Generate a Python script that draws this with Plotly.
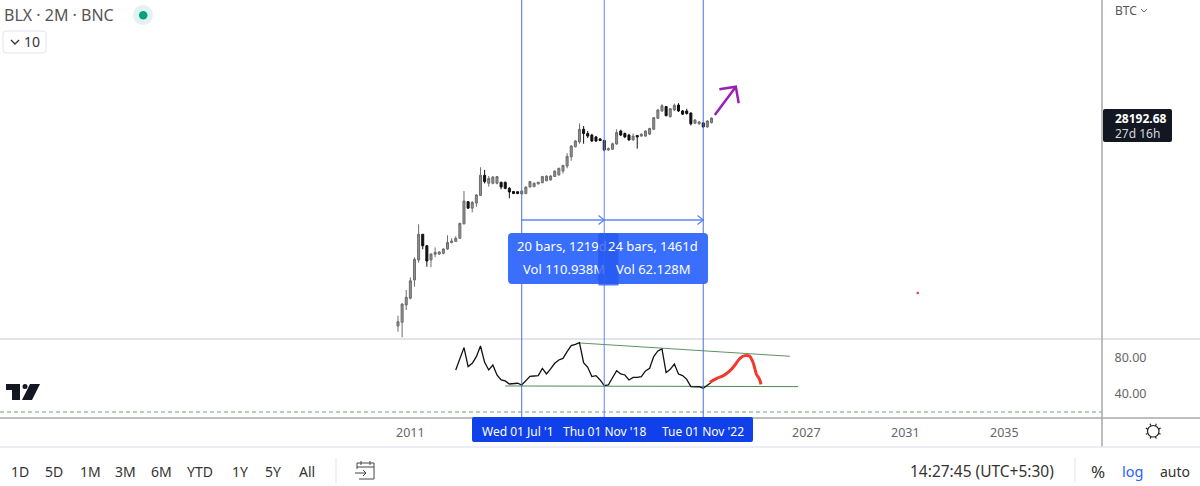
import math
import plotly.graph_objects as go

W, H = 1200, 486
FONT = "Noto Sans"

# --- candle data (2M bars, Jul 2010 -> Mar 2023) ---
bar_index = list(range(77))
opens = [0.104, 0.131, 0.369, 0.555, 1.66, 5.52, 25.9, 13.0, 5.52, 7.8, 7.92, 8.26, 10.7, 15.8, 16.9, 20.4,
         48.5, 184, 125, 170, 267, 900, 556, 556, 556, 590, 590, 410, 340, 335, 292, 300,
         445, 455, 535, 575, 645, 678, 835, 915, 1160, 1570, 2750, 5000, 6660, 14300, 11100, 10100,
         9050, 8000, 7350, 4110, 4300, 5900, 12900, 11100, 10100, 7510, 9900, 9500, 9500, 10700, 14300, 27700,
         43000, 56000, 30500, 45600, 61500, 43000, 43000, 38000, 20500, 19900, 21000, 16500, 21300]
highs = [0.194, 0.41, 0.91, 1.95, 6.5, 47.3, 26.3, 13.6, 8.26, 11.8, 9.2, 11.2, 24.4, 20.4, 23, 52,
         350, 192, 192, 292, 1460, 1240, 860, 860, 860, 615, 615, 445, 350, 345, 360, 460,
         640, 590, 610, 870, 890, 900, 1200, 1420, 1700, 3400, 5560, 7510, 20400, 17400, 12900, 10900,
         9600, 8500, 7510, 4800, 6400, 14300, 14000, 11800, 10900, 11100, 10100, 11100, 13400, 15700, 30000, 48600,
         65000, 58000, 50000, 67000, 69000, 45600, 49000, 39500, 26500, 23500, 22000, 25000, 29200]
lows = [0.074, 0.053, 0.273, 0.52, 1.11, 4.69, 10.5, 3.69, 3.57, 6.5, 7.46, 7.8, 10.1, 15, 16.3, 19.8,
        47.3, 119, 97, 136, 258, 550, 455, 525, 525, 388, 388, 226, 292, 290, 285, 290,
        435, 440, 525, 560, 630, 660, 810, 900, 1000, 1370, 2170, 4800, 6000, 6000, 8400, 6660,
        6660, 7100, 3800, 3900, 4110, 5650, 9500, 8400, 7300, 7300, 4480, 9200, 9200, 10100, 13700, 26500,
        40500, 31000, 29000, 43000, 40500, 34000, 34500, 18000, 19900, 18800, 15700, 15700, 20300]
closes = [0.135, 0.392, 0.587, 1.59, 5.76, 25.9, 13.0, 5.2, 7.92, 8.8, 9, 10.7, 15.8, 17.3, 20.4, 50,
          192, 125, 176, 275, 900, 615, 745, 810, 835, 445, 410, 330, 300, 300, 350, 445,
          615, 556, 590, 835, 860, 860, 1160, 1370, 1620, 2810, 5230, 7070, 14300, 11100, 9500, 7100,
          7100, 7250, 4110, 4480, 6000, 11800, 10100, 9050, 7510, 9500, 9050, 10700, 12900, 15000, 28800, 45600,
          59000, 32500, 49500, 60500, 43000, 35500, 37000, 19900, 25000, 22300, 16500, 23500, 28192.68]

# --- indicator pane ---
rsi_index = list(range(14, 77))
rsi_values = [66.7, 78.9, 91.5, 70.4, 74.1, 81.5, 93.3, 75.2, 66.7, 72.2, 61.1, 55.6, 54.5, 51.1, 51.1, 51.9,
              50, 54.5, 59.6, 60, 60.4, 68.5, 62.2, 67.8, 74.1, 77.8, 79.6, 87, 93.7, 95.2, 97,
              74.8, 69.6, 59.3, 60.4, 55.6, 49.3, 50, 57.4, 65.9, 62.2, 61.1, 55.6, 58.5, 58.5, 59.3,
              65.6, 68.5, 81.5, 87.8, 90, 63.7, 67.4, 73.3, 62.2, 60.4, 56.3, 48.2, 47.8, 48.2, 46.3, 50, 53]
scribble_x = [75.6, 77.3, 78.9, 80.5, 81.7, 82.9, 84.1, 85.2, 86, 86.5, 86.9, 87.6, 88]
scribble_y = [53, 57.4, 60.4, 65.9, 72.2, 79.6, 82.6, 82.2, 75.9, 68.5, 61.9, 56.7, 50.7]
trend_top_x, trend_top_y = [44, 95], [96.7, 81.9]
trend_low_x, trend_low_y = [26, 97], [48.9, 48.2]

# --- hand drawings on the price pane ---
marker_bars = [30, 50, 74]
marker_dates = ["Wed 01 Jul '1", "Thu 01 Nov '18", "Tue 01 Nov '22"]
marker_date_px = [517.5, 604.5, 703]
measure_x = [30, 50, None, 48.6, 50, 48.6, None, 50, 74, None, 72.6, 74, 72.6]
measure_y = [61.2, 61.2, None, 80, 61.2, 47, None, 61.2, 61.2, None, 80, 61.2, 47]
arrow_x = [76.8, 81.9, None, 77.9, 81.9, 82.6]
arrow_y = [33700, 185000, None, 158000, 185000, 68200]
red_dot_x, red_dot_y = [126], [0.76]

tick_bars = [3, 99, 123, 147]
tick_labels = ["2011", "2027", "2031", "2035"]
rsi_ticks = [40, 80]
rsi_tick_labels = ["40.00", "80.00"]
timeframes = ["1D", "5D", "1M", "3M", "6M", "YTD", "1Y", "5Y", "All"]
timeframe_px = [20, 54, 90, 125, 161, 200, 240, 273, 307]

last_price = 28192.68
PX_PER_DECADE = 38.3
PRICE_Y_PX = 118
PANE_BOTTOM = 339
PLOT_RIGHT = 1102
AXIS_Y = 418


def X(px):
    return px / W


def Y(py):
    return 1 - py / H


def rounded(x0, y0, x1, y1, r):
    return (f"M {X(x0 + r)} {Y(y0)} L {X(x1 - r)} {Y(y0)} Q {X(x1)} {Y(y0)} {X(x1)} {Y(y0 + r)} "
            f"L {X(x1)} {Y(y1 - r)} Q {X(x1)} {Y(y1)} {X(x1 - r)} {Y(y1)} "
            f"L {X(x0 + r)} {Y(y1)} Q {X(x0)} {Y(y1)} {X(x0)} {Y(y1 - r)} "
            f"L {X(x0)} {Y(y0 + r)} Q {X(x0)} {Y(y0)} {X(x0 + r)} {Y(y0)} Z")


def poly(points, close=True):
    d = " ".join(("M" if i == 0 else "L") + f" {X(p[0])} {Y(p[1])}" for i, p in enumerate(points))
    return d + (" Z" if close else "")


fig = go.Figure()

fig.add_trace(go.Candlestick(
    x=bar_index, open=opens, high=highs, low=lows, close=closes,
    increasing_line_color="#6e6e6e", increasing_fillcolor="#8f8f8f",
    decreasing_line_color="#111111", decreasing_fillcolor="#111111",
    line_width=1, whiskerwidth=0, showlegend=False,
))
fig.add_trace(go.Scatter(x=measure_x, y=measure_y, mode="lines",
                         line=dict(color="#5f86f5", width=1.3), showlegend=False))
fig.add_trace(go.Scatter(x=arrow_x, y=arrow_y, mode="lines",
                         line=dict(color="#9c1fb5", width=2.5), showlegend=False))
fig.add_trace(go.Scatter(x=red_dot_x, y=red_dot_y, mode="markers",
                         marker=dict(color="#f23645", size=2.5), showlegend=False))

fig.add_trace(go.Scatter(x=trend_top_x, y=trend_top_y, yaxis="y2", mode="lines",
                         line=dict(color="#5c9460", width=1), showlegend=False))
fig.add_trace(go.Scatter(x=trend_low_x, y=trend_low_y, yaxis="y2", mode="lines",
                         line=dict(color="#4f8a54", width=1), showlegend=False))
fig.add_trace(go.Scatter(x=rsi_index, y=rsi_values, yaxis="y2", mode="lines",
                         line=dict(color="#111111", width=1.3), showlegend=False))
fig.add_trace(go.Scatter(x=scribble_x, y=scribble_y, yaxis="y2", mode="lines",
                         line=dict(color="#f2392c", width=3, shape="spline"), showlegend=False))

shapes = []
BOX = "rgba(41,98,255,0.92)"
# measure boxes
shapes.append(dict(type="path", xref="paper", yref="paper", path=rounded(508, 233, 617, 284, 4),
                   fillcolor=BOX, line_width=0, layer="above"))
shapes.append(dict(type="path", xref="paper", yref="paper", path=rounded(598, 233, 708, 284, 4),
                   fillcolor=BOX, line_width=0, layer="above"))
# vertical markers
for b, col in zip(marker_bars, ["#4d6fd8", "#5f86f5", "#4d6fd8"]):
    shapes.append(dict(type="line", xref="x", yref="paper", x0=b, x1=b, y0=Y(AXIS_Y), y1=1,
                       line=dict(color=col, width=1), layer="above"))
# dashed level at 20
shapes.append(dict(type="line", xref="paper", yref="y2", x0=0, x1=X(PLOT_RIGHT), y0=20, y1=20,
                   line=dict(color="#9fc49f", width=1.5, dash="4px,3px"), layer="below"))
# pane and axis borders
shapes.append(dict(type="line", xref="paper", yref="paper", x0=0, x1=1, y0=Y(PANE_BOTTOM), y1=Y(PANE_BOTTOM),
                   line=dict(color="#e2e4ec", width=2), layer="below"))
shapes.append(dict(type="line", xref="paper", yref="paper", x0=0, x1=1, y0=Y(AXIS_Y), y1=Y(AXIS_Y),
                   line=dict(color="#a8a8a8", width=1.5), layer="below"))
shapes.append(dict(type="line", xref="paper", yref="paper", x0=X(PLOT_RIGHT), x1=X(PLOT_RIGHT), y0=Y(447), y1=1,
                   line=dict(color="#a8a8a8", width=1.5), layer="below"))
shapes.append(dict(type="line", xref="paper", yref="paper", x0=0, x1=1, y0=Y(447), y1=Y(447),
                   line=dict(color="#e6e8ef", width=1.5), layer="below"))
# blue date strip
shapes.append(dict(type="path", xref="paper", yref="paper", path=rounded(472, 417, 753, 442, 2),
                   fillcolor="#0f40ea", line_width=0, layer="above"))
# price tag
shapes.append(dict(type="path", xref="paper", yref="paper", path=rounded(1103, 109, 1172, 142, 2),
                   fillcolor="#131722", line_width=0, layer="above"))
# status dot
shapes.append(dict(type="circle", xref="paper", yref="paper", x0=X(133), x1=X(153), y0=Y(25), y1=Y(5),
                   fillcolor="#e0f3ef", line_width=0))
shapes.append(dict(type="circle", xref="paper", yref="paper", x0=X(139), x1=X(147.5), y0=Y(19.5), y1=Y(11),
                   fillcolor="#089e82", line_width=0))
# "10" button
shapes.append(dict(type="path", xref="paper", yref="paper", path=rounded(3, 31, 46, 53, 3),
                   fillcolor="white", line=dict(color="#e3e5ec", width=1)))
shapes.append(dict(type="path", xref="paper", yref="paper", path=poly([(11, 40), (15, 44), (19, 40)], False),
                   line=dict(color="#333333", width=1.3)))
# BTC chevron
shapes.append(dict(type="path", xref="paper", yref="paper", path=poly([(1141, 9), (1144, 12), (1147, 9)], False),
                   line=dict(color="#666666", width=1)))
# logo
shapes.append(dict(type="path", xref="paper", yref="paper", fillcolor="#131722", line_width=0,
                   path=poly([(6, 384), (20, 384), (20, 400), (12, 400), (12, 390), (6, 390)])))
shapes.append(dict(type="circle", xref="paper", yref="paper", x0=X(22.5), x1=X(27.5), y0=Y(389), y1=Y(384),
                   fillcolor="#131722", line_width=0))
shapes.append(dict(type="path", xref="paper", yref="paper", fillcolor="#131722", line_width=0,
                   path=poly([(30, 384), (40, 384), (32, 400), (22, 400)])))
# sun icon
shapes.append(dict(type="circle", xref="paper", yref="paper", x0=X(1147.5), x1=X(1159), y0=Y(437), y1=Y(425.5),
                   line=dict(color="#222222", width=1.2)))
for k in range(8):
    a = k * math.pi / 4 + math.pi / 8
    shapes.append(dict(type="line", xref="paper", yref="paper",
                       x0=X(1153.2 + 6 * math.cos(a)), x1=X(1153.2 + 8 * math.cos(a)),
                       y0=Y(431.2 + 6 * math.sin(a)), y1=Y(431.2 + 8 * math.sin(a)),
                       line=dict(color="#222222", width=1.2)))
# toolbar separators
shapes.append(dict(type="line", xref="paper", yref="paper", x0=X(336), x1=X(336), y0=Y(483), y1=Y(458),
                   line=dict(color="#e0e3eb", width=1)))
shapes.append(dict(type="line", xref="paper", yref="paper", x0=X(1075), x1=X(1075), y0=Y(483), y1=Y(458),
                   line=dict(color="#e0e3eb", width=1)))
# calendar icon
shapes.append(dict(type="path", xref="paper", yref="paper", line=dict(color="#444444", width=1),
                   path=poly([(357, 469), (357, 463), (374, 463), (374, 479), (359, 479)], False)))
shapes.append(dict(type="path", xref="paper", yref="paper", line=dict(color="#444444", width=1),
                   path=poly([(357, 467), (374, 467)], False)))
shapes.append(dict(type="path", xref="paper", yref="paper", line=dict(color="#444444", width=1),
                   path=poly([(355, 473), (366, 473), (363, 470), (366, 473), (363, 476)], False)))
for cx in [361, 370]:
    shapes.append(dict(type="line", xref="paper", yref="paper", x0=X(cx), x1=X(cx), y0=Y(465), y1=Y(461),
                       line=dict(color="#444444", width=1)))

annotations = []


def label(text, px, py, size=13, color="#555555", anchor="center", **kw):
    annotations.append(dict(text=text, xref="paper", yref="paper", x=X(px), y=Y(py), showarrow=False,
                            xanchor=anchor, yanchor="middle", font=dict(family=FONT, size=size, color=color),
                            borderpad=0, **kw))


label("BLX · 2M · BNC", 3, 15, size=16, anchor="left")
label("10", 23, 42, size=14, color="#333333", anchor="left")
label("BTC", 1114, 11, size=12, anchor="left")
label("20 bars, 1219d", 562, 246, color="white")
label("Vol 110.938M", 564, 269, color="white")
# second box veils the end of the first box's text
annotations.append(dict(text=" ", xref="paper", yref="paper", x=X(598), y=Y(233), xanchor="left", yanchor="top",
                        showarrow=False, width=19, height=51, bgcolor="rgba(41,90,240,0.8)", borderpad=0))
label("24 bars, 1461d", 653, 246, color="white")
label("Vol 62.128M", 653, 269, color="white")
for txt, px in zip(marker_dates, marker_date_px):
    label(txt, px, 431, size=12, color="white")
label(f"<b>{last_price:.2f}</b>", 1140.5, 118, size=12, color="white")
label("27d 16h", 1137, 134, size=12, color="#d4d6dc")
for txt, px in zip(timeframes, timeframe_px):
    label(txt, px, 471, size=14, color="#333333")
label("14:27:45 (UTC+5:30)", 982, 471, size=15.5, color="#333333")
label("%", 1098, 471, size=17, color="#333333")
label("log", 1132, 471, size=14.5, color="#2962ff")
label("auto", 1175, 471, size=14, color="#333333")

log_last = math.log10(last_price)
fig.update_layout(
    width=W, height=H, margin=dict(l=0, r=0, t=0, b=0),
    paper_bgcolor="white", plot_bgcolor="white",
    font=dict(family=FONT, color="#555555"),
    xaxis=dict(domain=[0, X(PLOT_RIGHT)], anchor="y2", range=[-96.48, 170.67],
               tickmode="array", tickvals=tick_bars, ticktext=tick_labels,
               ticks="outside", ticklen=3, tickcolor="rgba(0,0,0,0)",
               tickfont=dict(size=12.5, color="#666666"),
               showgrid=False, zeroline=False, showline=False, rangeslider_visible=False),
    yaxis=dict(domain=[Y(PANE_BOTTOM), 1], anchor="x", side="right", type="log",
               range=[log_last - (PANE_BOTTOM - PRICE_Y_PX) / PX_PER_DECADE,
                      log_last + PRICE_Y_PX / PX_PER_DECADE],
               showticklabels=False, ticks="", showgrid=False, zeroline=False, showline=False),
    yaxis2=dict(domain=[Y(AXIS_Y), Y(PANE_BOTTOM)], anchor="x", side="right",
                range=[13.3, 101.1], tickmode="array", tickvals=rsi_ticks, ticktext=rsi_tick_labels,
                ticks="outside", ticklen=9, tickcolor="rgba(0,0,0,0)",
                tickfont=dict(size=12.5, color="#666666"),
                showgrid=False, zeroline=False, showline=False),
    shapes=shapes, annotations=annotations, showlegend=False,
)

fig.write_html("out.html", config=dict(displayModeBar=False),
               post_script="document.body.style.margin='0';document.body.style.overflow='hidden';")
